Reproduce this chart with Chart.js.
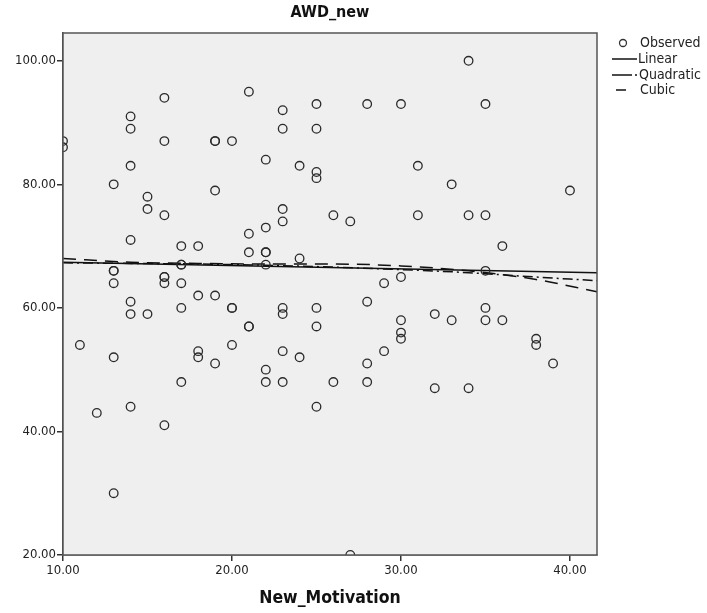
<!DOCTYPE html>
<html>
<head>
<meta charset="utf-8">
<script src="https://cdn.jsdelivr.net/npm/chart.js@4.4.1/dist/chart.umd.min.js"></script>
<style>
  html, body { margin: 0; padding: 0; background: #ffffff; }
  #wrap { width: 707px; height: 613px; position: relative; }
</style>
</head>
<body>
<div id="wrap"><canvas id="fit"></canvas></div>
<script>
// ----------------------------------------
// Data
// ----------------------------------------

// Observed cases: New_Motivation (x) vs AWD_new (y)
var motivation = [10, 10, 11, 12, 13, 13, 13, 13, 13, 13,
    14, 14, 14, 14, 14, 14, 14, 15, 15, 15,
    16, 16, 16, 16, 16, 16, 16, 17, 17, 17, 17, 17, 17,
    18, 18, 18, 18, 19, 19, 19, 19, 19, 20, 20, 20, 20,
    21, 21, 21, 21, 21, 22, 22, 22, 22, 22, 22, 22,
    23, 23, 23, 23, 23, 23, 23, 23, 24, 24, 24,
    25, 25, 25, 25, 25, 25, 25, 26, 26, 27, 27,
    28, 28, 28, 28, 29, 29, 30, 30, 30, 30, 30,
    31, 31, 32, 32, 33, 33, 34, 34, 34,
    35, 35, 35, 35, 35, 36, 36, 38, 38, 39, 40];
var awd = [87, 86, 54, 43, 80, 66, 66, 64, 52, 30,
    91, 89, 83, 71, 61, 59, 44, 78, 76, 59,
    94, 87, 75, 65, 65, 64, 41, 70, 67, 67, 64, 60, 48,
    70, 62, 53, 52, 87, 87, 79, 62, 51, 87, 60, 60, 54,
    95, 72, 69, 57, 57, 84, 73, 69, 69, 67, 50, 48,
    92, 89, 76, 74, 60, 59, 53, 48, 83, 68, 52,
    93, 89, 82, 81, 60, 57, 44, 75, 48, 74, 20,
    93, 61, 51, 48, 64, 53, 93, 65, 58, 56, 55,
    83, 75, 59, 47, 80, 58, 100, 75, 47,
    93, 75, 66, 60, 58, 70, 58, 55, 54, 51, 79];

// Fitted curves, values read at a few x positions
var linearX = [10, 41.6];
var linearY = [67.4, 65.7];
var curveX = [10, 14, 18, 22, 26, 30, 34, 38, 41.6];
var quadraticY = [67.3, 67.2, 67.1, 66.9, 66.6, 66.2, 65.7, 65.0, 64.4];
var cubicY = [68.0, 67.4, 67.2, 67.1, 67.1, 66.8, 66.0, 64.6, 62.6];

// Axes
var xTicks = [10, 20, 30, 40];
var yTicks = [20, 40, 60, 80, 100];
var chartTitle = 'AWD_new';
var xTitle = 'New_Motivation';
var legendLabels = ['Observed', 'Linear', 'Quadratic', 'Cubic'];

var FONT = '"DejaVu Sans Condensed", "DejaVu Sans"';

function pairs(xs, ys) {
    return xs.map(function (x, i) {
        return { x: x, y: ys[i] };
    });
}

// Plot background, frame, titles and legend
var frame = {
    id: 'frame',
    beforeDatasetsDraw: function (chart) {
        var a = chart.chartArea, ctx = chart.ctx;
        ctx.save();
        ctx.fillStyle = '#efefef';
        ctx.fillRect(a.left, a.top, a.right - a.left, a.bottom - a.top);
        ctx.restore();
    },
    afterDraw: function (chart) {
        var a = chart.chartArea, ctx = chart.ctx;
        ctx.save();
        ctx.strokeStyle = '#555';
        ctx.lineWidth = 1.5;
        ctx.strokeRect(a.left, a.top, a.right - a.left, a.bottom - a.top);

        ctx.fillStyle = '#111';
        ctx.textAlign = 'center';
        ctx.textBaseline = 'middle';
        ctx.font = 'bold 16px ' + FONT;
        ctx.fillText(chartTitle, 330, 13);
        ctx.font = 'bold 17.5px ' + FONT;
        ctx.fillText(xTitle, (a.left + a.right) / 2, 598);

        // legend
        var ly = [43, 59, 75, 90];
        ctx.font = '14px ' + FONT;
        ctx.textAlign = 'left';
        ctx.fillStyle = '#222';
        ctx.strokeStyle = '#333';
        ctx.lineWidth = 1.3;
        ctx.beginPath();
        ctx.arc(623, ly[0], 3.5, 0, Math.PI * 2);
        ctx.stroke();
        ctx.fillText(legendLabels[0], 640, ly[0]);

        ctx.strokeStyle = '#111';
        ctx.lineWidth = 1.5;
        ctx.beginPath(); ctx.moveTo(612, ly[1]); ctx.lineTo(637, ly[1]); ctx.stroke();
        ctx.fillText(legendLabels[1], 638, ly[1]);
        ctx.beginPath(); ctx.moveTo(612, ly[2]); ctx.lineTo(632, ly[2]); ctx.stroke();
        ctx.beginPath(); ctx.moveTo(635, ly[2]); ctx.lineTo(637, ly[2]); ctx.stroke();
        ctx.fillText(legendLabels[2], 639, ly[2]);
        ctx.beginPath(); ctx.moveTo(616, ly[3]); ctx.lineTo(626, ly[3]); ctx.stroke();
        ctx.fillText(legendLabels[3], 640, ly[3]);
        ctx.restore();
    }
};

var ctx = document.getElementById('fit').getContext('2d');
var config = {
    type: 'scatter',
    data: {
        datasets: [{
            label: legendLabels[0],
            data: pairs(motivation, awd),
            pointStyle: 'circle',
            pointRadius: 4.3,
            pointBorderWidth: 1.3,
            borderColor: '#2a2a2a',
            backgroundColor: 'rgba(0,0,0,0)',
            order: 0
        }, {
            label: legendLabels[1],
            data: pairs(linearX, linearY),
            showLine: true,
            pointRadius: 0,
            borderColor: '#111',
            borderWidth: 1.5,
            order: 1
        }, {
            label: legendLabels[2],
            data: pairs(curveX, quadraticY),
            showLine: true,
            pointRadius: 0,
            borderColor: '#111',
            borderWidth: 1.5,
            borderDash: [10, 4, 2, 4],
            cubicInterpolationMode: 'monotone',
            order: 2
        }, {
            label: legendLabels[3],
            data: pairs(curveX, cubicY),
            showLine: true,
            pointRadius: 0,
            borderColor: '#111',
            borderWidth: 1.5,
            borderDash: [13, 8],
            cubicInterpolationMode: 'monotone',
            order: 3
        }]
    },
    options: {
        responsive: false,
        animation: false,
        devicePixelRatio: 1,
        layout: { padding: { top: 33, right: 110, left: 0, bottom: 0 } },
        plugins: {
            legend: { display: false },
            title: { display: false },
            tooltip: { enabled: false }
        },
        scales: {
            x: {
                type: 'linear',
                min: 10,
                max: 41.6,
                afterBuildTicks: function (scale) {
                    scale.ticks = xTicks.map(function (v) { return { value: v }; });
                },
                afterFit: function (scale) { scale.height = 58; },
                grid: { drawOnChartArea: false, drawTicks: true, tickLength: 6, tickColor: '#333', lineWidth: 1.5 },
                border: { display: true, color: '#444', width: 1.5 },
                ticks: {
                    padding: 2,
                    color: '#222',
                    font: { family: FONT, size: 13 },
                    callback: function (v) { return Number(v).toFixed(2); }
                }
            },
            y: {
                type: 'linear',
                min: 20,
                max: 104.5,
                afterBuildTicks: function (scale) {
                    scale.ticks = yTicks.map(function (v) { return { value: v }; });
                },
                afterFit: function (scale) { scale.width = 63; },
                grid: { drawOnChartArea: false, drawTicks: true, tickLength: 6, tickColor: '#333', lineWidth: 1.5 },
                border: { display: true, color: '#444', width: 1.5 },
                ticks: {
                    padding: 1,
                    color: '#222',
                    font: { family: FONT, size: 13 },
                    callback: function (v) { return Number(v).toFixed(2); }
                }
            }
        }
    },
    plugins: [frame]
};
var canvas = document.getElementById('fit');
canvas.width = 707;
canvas.height = 613;
var chart = new Chart(ctx, config);
</script>
</body>
</html>
